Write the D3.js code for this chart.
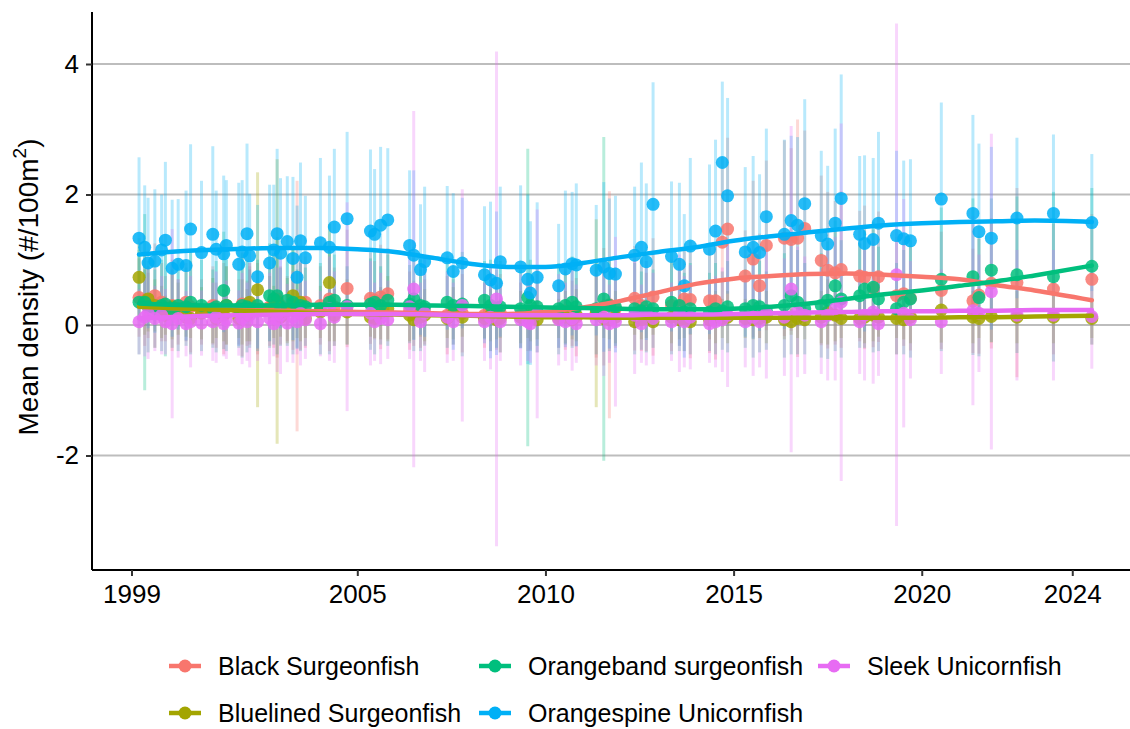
<!DOCTYPE html>
<html>
<head>
<meta charset="utf-8">
<script src="https://cdn.jsdelivr.net/npm/d3@7"></script>
<style>
  body { margin: 0; background: #fff; }
  svg text { font-family: "Liberation Sans", Arial, sans-serif; fill: #000; }
</style>
</head>
<body>
<div id="chart"></div>
<script>
var width = 1130, height = 729;

// survey dates (decimal years)
var dates = [
  1999.20, 1999.35, 1999.44, 1999.62, 1999.80, 1999.90, 2000.08, 2000.24, 2000.45, 2000.57,
  2000.86, 2001.16, 2001.25, 2001.45, 2001.52, 2001.85, 2001.94, 2002.07, 2002.14, 2002.35,
  2002.67, 2002.78, 2002.87, 2002.96, 2003.14, 2003.29, 2003.40, 2003.49, 2003.62, 2004.02,
  2004.26, 2004.39, 2004.73, 2005.35, 2005.46, 2005.62, 2005.81, 2006.39, 2006.50, 2006.68,
  2006.79, 2007.39, 2007.55, 2007.79, 2008.38, 2008.54, 2008.70, 2008.80, 2009.34, 2009.53,
  2009.60, 2009.78, 2010.35, 2010.53, 2010.71, 2010.82, 2011.35, 2011.55, 2011.70, 2011.86,
  2012.37, 2012.55, 2012.68, 2012.86, 2013.35, 2013.56, 2013.69, 2013.85, 2014.36, 2014.52,
  2014.70, 2014.84, 2015.31, 2015.52, 2015.69, 2015.87, 2016.35, 2016.53, 2016.70, 2016.89,
  2017.33, 2017.50, 2017.70, 2017.86, 2018.35, 2018.48, 2018.71, 2018.85, 2019.33, 2019.52,
  2019.70, 2020.52, 2021.36, 2021.52, 2021.85, 2022.53, 2023.50, 2024.52
];

// mean density and error half-width per species
var blackMean = [
  0.42, 0.38, 0.30, 0.45, 0.35, 0.25, 0.30, 0.20, 0.35, 0.28,
  0.20, 0.30, 0.15, 0.25, 0.30, 0.20, 0.32, 0.18, 0.30, 0.25,
  0.28, 0.35, 0.40, 0.30, 0.25, 0.32, 0.29, 0.22, 0.35, 0.30,
  0.40, 0.28, 0.56, 0.41, 0.38, 0.43, 0.48, 0.22, 0.18, 0.25,
  0.20, 0.15, 0.20, 0.18, 0.15, 0.20, 0.12, 0.18, 0.15, 0.20,
  0.12, 0.18, 0.15, 0.22, 0.18, 0.12, 0.20, 0.28, 0.31, 0.25,
  0.41, 0.30, 0.20, 0.43, 0.30, 0.28, 0.40, 0.39, 0.37, 0.37,
  1.27, 1.47, 0.75, 1.01, 0.60, 1.22, 1.33, 1.31, 1.33, 1.48,
  0.99, 0.84, 0.80, 0.85, 0.75, 0.73, 0.56, 0.74, 0.45, 0.48,
  0.41, 0.53, 0.37, 0.46, 0.64, 0.65, 0.55, 0.70
];
var blackErr = [
  0.6, 0.7, 0.5, 0.8, 0.6, 0.5, 0.7, 0.5, 0.6, 0.7,
  0.5, 0.6, 0.5, 0.7, 0.6, 0.5, 0.8, 0.5, 0.6, 0.7,
  0.6, 0.7, 0.9, 0.6, 0.5, 0.7, 1.92, 0.6, 0.7, 0.6,
  0.8, 0.6, 0.9, 0.7, 0.6, 0.8, 0.7, 0.6, 0.5, 0.6,
  0.5, 0.6, 0.5, 0.6, 0.5, 0.6, 0.5, 0.6, 0.5, 0.6,
  0.5, 0.6, 0.5, 0.6, 0.5, 0.6, 0.7, 0.9, 1.74, 0.6,
  0.8, 0.7, 0.6, 0.9, 0.7, 0.6, 0.8, 0.9, 0.8, 0.9,
  1.3, 1.4, 0.7, 1.2, 0.8, 1.3, 1.5, 1.4, 1.82, 1.5,
  1.3, 1.2, 1.1, 1.2, 1.0, 1.1, 0.9, 1.0, 0.9, 0.8,
  0.8, 0.9, 0.8, 0.9, 1.0, 1.45, 1.0, 1.0
];
var bluelinedMean = [
  0.73, 0.35, 0.40, 0.30, 0.20, 0.15, 0.28, 0.25, 0.12, 0.10,
  0.18, 0.22, 0.10, 0.15, 0.30, 0.10, 0.20, 0.15, 0.35, 0.54,
  0.25, 0.20, 0.36, 0.12, 0.22, 0.45, 0.30, 0.35, 0.10, 0.20,
  0.65, 0.15, 0.20, 0.12, 0.10, 0.18, 0.25, 0.15, 0.08, 0.12,
  0.15, 0.10, 0.18, 0.12, 0.10, 0.15, 0.08, 0.10, 0.12, 0.10,
  0.15, 0.08, 0.10, 0.12, 0.08, 0.15, 0.18, 0.10, 0.08, 0.12,
  0.05, 0.08, 0.10, 0.05, 0.12, 0.08, 0.10, 0.05, 0.08, 0.12,
  0.10, 0.12, 0.10, 0.08, 0.10, 0.12, 0.08, 0.05, 0.10, 0.08,
  0.12, 0.20, 0.15, 0.10, 0.10, 0.12, 0.15, 0.12, 0.10, 0.08,
  0.12, 0.23, 0.12, 0.10, 0.13, 0.12, 0.12, 0.10
];
var bluelinedErr = [
  0.6, 0.5, 0.5, 0.4, 0.4, 0.3, 0.5, 0.4, 0.3, 0.3,
  0.4, 0.5, 0.3, 0.4, 0.6, 0.3, 0.5, 0.4, 0.6, 1.8,
  0.5, 0.4, 2.18, 0.3, 0.5, 0.7, 0.5, 0.6, 0.3, 0.4,
  0.9, 0.4, 0.5, 0.3, 0.3, 0.4, 0.5, 0.4, 0.3, 0.3,
  0.4, 0.3, 0.4, 0.3, 0.3, 0.4, 0.3, 0.3, 0.4, 0.3,
  0.4, 0.3, 0.3, 0.4, 0.3, 0.4, 1.44, 0.3, 0.3, 0.4,
  0.2, 0.3, 0.3, 0.2, 0.4, 0.3, 0.3, 0.2, 0.3, 0.4,
  0.3, 0.4, 0.3, 0.3, 0.3, 0.4, 0.3, 0.2, 0.3, 0.3,
  0.4, 0.5, 0.4, 0.3, 0.3, 0.4, 0.4, 0.3, 0.3, 0.3,
  0.4, 0.5, 0.4, 0.3, 0.4, 0.4, 0.4, 0.3
];
var orangebandMean = [
  0.35, 0.35, 0.28, 0.25, 0.30, 0.32, 0.25, 0.30, 0.28, 0.35,
  0.30, 0.25, 0.28, 0.53, 0.30, 0.25, 0.30, 0.28, 0.25, 0.30,
  0.45, 0.40, 0.45, 0.28, 0.38, 0.35, 0.25, 0.30, 0.28, 0.25,
  0.35, 0.38, 0.30, 0.32, 0.35, 0.30, 0.38, 0.32, 0.40, 0.30,
  0.28, 0.35, 0.30, 0.32, 0.38, 0.30, 0.25, 0.28, 0.25, 0.42,
  0.30, 0.28, 0.25, 0.30, 0.35, 0.28, 0.25, 0.40, 0.30, 0.28,
  0.25, 0.22, 0.28, 0.25, 0.35, 0.30, 0.20, 0.25, 0.20, 0.25,
  0.22, 0.28, 0.25, 0.30, 0.28, 0.22, 0.30, 0.45, 0.35, 0.25,
  0.30, 0.38, 0.60, 0.40, 0.45, 0.55, 0.58, 0.40, 0.25, 0.35,
  0.40, 0.70, 0.74, 0.42, 0.84, 0.77, 0.74, 0.90
];
var orangebandErr = [
  0.8, 1.35, 0.7, 0.6, 0.7, 0.8, 0.6, 0.7, 0.6, 0.8,
  0.7, 0.6, 0.7, 0.9, 0.7, 0.6, 0.8, 0.7, 0.6, 0.7,
  0.8, 0.7, 0.9, 0.6, 0.7, 0.8, 0.6, 0.7, 0.6, 0.7,
  0.8, 0.7, 0.6, 0.7, 0.8, 0.6, 0.7, 0.6, 0.8, 0.7,
  0.6, 0.7, 0.6, 0.8, 0.6, 0.7, 0.6, 0.7, 0.6, 2.28,
  0.7, 0.6, 0.7, 0.6, 0.7, 0.6, 0.7, 2.48, 0.7, 0.6,
  0.7, 0.6, 0.7, 0.6, 0.8, 0.7, 0.6, 0.7, 0.6, 0.7,
  0.6, 0.7, 0.6, 0.8, 0.7, 0.6, 0.8, 0.9, 0.8, 0.7,
  0.8, 0.9, 1.0, 0.9, 0.8, 0.9, 1.0, 0.8, 0.7, 0.8,
  0.9, 1.1, 1.2, 0.9, 1.1, 1.2, 1.3, 1.2
];
var orangespineMean = [
  1.33, 1.19, 0.95, 0.98, 1.15, 1.30, 0.87, 0.93, 0.91, 1.47,
  1.11, 1.39, 1.16, 1.09, 1.22, 0.93, 1.12, 1.40, 1.06, 0.74,
  0.95, 1.15, 1.40, 1.10, 1.28, 1.02, 0.73, 1.29, 1.03, 1.26,
  1.19, 1.50, 1.63, 1.44, 1.39, 1.53, 1.61, 1.22, 1.07, 0.85,
  0.97, 1.03, 0.82, 0.95, 0.77, 0.69, 0.64, 0.97, 0.89, 0.70,
  0.49, 0.73, 0.60, 0.86, 0.94, 0.92, 0.84, 0.89, 0.79, 0.78,
  1.07, 1.19, 0.97, 1.85, 1.05, 0.93, 0.60, 1.21, 1.16, 1.44,
  2.49, 1.98, 1.12, 1.19, 1.11, 1.66, 1.39, 1.60, 1.53, 1.86,
  1.37, 1.24, 1.56, 1.94, 1.39, 1.25, 1.31, 1.56, 1.37, 1.32,
  1.29, 1.93, 1.71, 1.43, 1.33, 1.64, 1.71, 1.57
];
var orangespineErr = [
  1.24, 0.95, 1.0, 1.1, 0.85, 1.2, 1.05, 1.0, 1.15, 1.3,
  1.1, 1.35, 0.9, 1.2, 1.0, 1.25, 1.1, 1.38, 0.95, 1.1,
  1.2, 1.0, 1.3, 1.15, 1.0, 1.25, 1.1, 1.2, 0.95, 1.3,
  1.1, 1.2, 1.33, 1.25, 1.0, 1.2, 1.1, 1.15, 1.3, 1.0,
  1.15, 1.1, 1.2, 1.0, 1.05, 1.2, 1.1, 1.15, 1.25, 1.3,
  1.1, 1.15, 0.95, 1.2, 1.1, 1.25, 1.0, 1.3, 1.15, 1.2,
  1.05, 1.3, 1.2, 1.87, 1.15, 1.25, 1.1, 1.35, 1.3, 1.4,
  1.24, 1.5, 1.3, 1.4, 1.2, 1.35, 1.45, 1.3, 1.35, 1.6,
  1.3, 1.2, 1.45, 1.9, 1.2, 1.35, 1.25, 1.4, 1.3, 1.2,
  1.25, 1.48, 1.51, 1.35, 1.4, 1.23, 1.21, 1.05
];
var sleekMean = [
  0.05, 0.12, 0.18, 0.10, 0.15, 0.05, 0.02, 0.10, 0.02, 0.05,
  0.03, 0.05, 0.12, 0.02, 0.08, 0.03, 0.10, 0.05, 0.15, 0.05,
  0.10, 0.02, 0.08, 0.15, 0.03, 0.12, 0.05, 0.18, 0.08, 0.02,
  0.25, 0.12, 0.28, 0.18, 0.05, 0.10, 0.08, 0.28, 0.55, 0.05,
  0.18, 0.12, 0.05, 0.30, 0.05, 0.12, 0.40, 0.05, 0.08, 0.05,
  0.02, 0.17, 0.08, 0.05, 0.10, 0.02, 0.08, 0.12, 0.02, 0.05,
  0.15, 0.02, 0.18, 0.10, 0.05, 0.18, 0.05, 0.12, 0.02, 0.05,
  0.08, 0.15, 0.05, 0.12, 0.05, 0.18, 0.12, 0.55, 0.20, 0.15,
  0.05, 0.15, 0.25, 0.35, 0.05, 0.15, 0.20, 0.02, 0.77, 0.18,
  0.08, 0.05, 0.22, 0.18, 0.51, 0.15, 0.15, 0.13
];
var sleekErr = [
  0.5, 0.6, 0.7, 0.5, 0.6, 0.5, 1.45, 0.6, 0.5, 0.7,
  0.5, 0.6, 0.7, 0.5, 0.6, 0.5, 0.7, 0.6, 0.8, 0.6,
  0.7, 0.5, 0.8, 0.9, 0.6, 0.7, 0.5, 0.8, 0.6, 0.5,
  0.8, 0.7, 1.6, 0.8, 0.6, 0.7, 0.6, 0.8, 2.73, 0.6,
  0.9, 0.7, 0.6, 1.78, 0.6, 0.8, 3.79, 0.6, 0.7, 0.6,
  0.6, 1.6, 0.7, 0.6, 0.8, 0.6, 0.7, 0.9, 0.6, 1.3,
  0.9, 0.6, 0.8, 0.7, 0.6, 0.9, 0.7, 0.8, 0.6, 0.7,
  0.8, 1.1, 0.7, 0.9, 0.7, 1.0, 0.9, 2.5, 1.0, 0.9,
  0.8, 1.0, 1.1, 2.74, 0.8, 1.0, 1.1, 0.8, 3.85, 1.75,
  0.9, 0.8, 1.45, 0.9, 2.42, 1.0, 1.0, 0.8
];

// smoothed trend
var smoothYears = [1999.2, 2000, 2001, 2002, 2003, 2004, 2005, 2006, 2007, 2008, 2009, 2010, 2011,
  2012, 2013, 2014, 2015, 2016, 2017, 2018, 2019, 2020, 2021, 2022, 2023, 2024.52];
var blackSmooth = [0.28, 0.26, 0.25, 0.23, 0.22, 0.21, 0.20, 0.19, 0.18, 0.17, 0.17, 0.20, 0.27,
  0.37, 0.50, 0.63, 0.71, 0.75, 0.78, 0.79, 0.77, 0.74, 0.70, 0.61, 0.53, 0.38];
var bluelinedSmooth = [0.28, 0.26, 0.24, 0.22, 0.20, 0.18, 0.17, 0.16, 0.15, 0.14, 0.13, 0.12, 0.12,
  0.11, 0.11, 0.11, 0.11, 0.11, 0.11, 0.11, 0.11, 0.11, 0.12, 0.12, 0.13, 0.14];
var orangebandSmooth = [0.33, 0.31, 0.30, 0.30, 0.30, 0.31, 0.31, 0.31, 0.30, 0.29, 0.28, 0.27, 0.26,
  0.25, 0.24, 0.24, 0.25, 0.28, 0.33, 0.40, 0.47, 0.53, 0.60, 0.67, 0.76, 0.91];
var orangespineSmooth = [1.08, 1.12, 1.15, 1.17, 1.18, 1.18, 1.16, 1.12, 1.03, 0.94, 0.89, 0.89, 0.95,
  1.04, 1.12, 1.19, 1.29, 1.36, 1.42, 1.48, 1.53, 1.56, 1.58, 1.59, 1.60, 1.58];
var sleekSmooth = [0.10, 0.12, 0.14, 0.15, 0.16, 0.17, 0.17, 0.17, 0.16, 0.15, 0.15, 0.15, 0.15,
  0.15, 0.16, 0.16, 0.17, 0.18, 0.19, 0.20, 0.21, 0.21, 0.22, 0.22, 0.23, 0.23];

var species = ["Black Surgeonfish", "Bluelined Surgeonfish", "Orangeband surgeonfish",
  "Orangespine Unicornfish", "Sleek Unicornfish"];
var colors = ["#F8766D", "#A3A500", "#00BF7D", "#00B0F6", "#E76BF3"];
var xTicks = [1999, 2005, 2010, 2015, 2020, 2024];
var yTicks = [-2, 0, 2, 4];

var seriesMeans = [blackMean, bluelinedMean, orangebandMean, orangespineMean, sleekMean];
var seriesErrs = [blackErr, bluelinedErr, orangebandErr, orangespineErr, sleekErr];
var seriesSmooth = [blackSmooth, bluelinedSmooth, orangebandSmooth, orangespineSmooth, sleekSmooth];

var series = species.map(function(name, i) {
  return {
    name: name,
    color: colors[i],
    points: dates.map(function(d, j) {
      return { x: d, y: seriesMeans[i][j], e: seriesErrs[i][j] };
    }),
    smooth: smoothYears.map(function(d, j) { return { x: d, y: seriesSmooth[i][j] }; })
  };
});

var svg = d3.select("#chart").append("svg")
    .attr("width", width)
    .attr("height", height);

var panel = { left: 92, top: 12, right: 1140, bottom: 570 };

var x = d3.scaleLinear().domain([1997.95, 2025.8]).range([panel.left, panel.right]);
var y = d3.scaleLinear().domain([-3.755, 4.797]).range([panel.bottom, panel.top]);

// grid lines
svg.append("g")
  .selectAll("line")
  .data(yTicks)
  .enter().append("line")
  .attr("x1", panel.left).attr("x2", width)
  .attr("y1", function(d) { return y(d); })
  .attr("y2", function(d) { return y(d); })
  .attr("stroke", "#bdbdbd")
  .attr("stroke-width", 2);

// error bars
var errG = svg.append("g");
series.forEach(function(s) {
  errG.append("g").selectAll("line")
    .data(s.points)
    .enter().append("line")
    .attr("x1", function(d) { return x(d.x); })
    .attr("x2", function(d) { return x(d.x); })
    .attr("y1", function(d) { return y(d.y - d.e); })
    .attr("y2", function(d) { return y(d.y + d.e); })
    .attr("stroke", s.color)
    .attr("stroke-opacity", 0.28)
    .attr("stroke-width", 3);
});

// points
var ptG = svg.append("g");
series.forEach(function(s) {
  ptG.append("g").selectAll("circle")
    .data(s.points)
    .enter().append("circle")
    .attr("cx", function(d) { return x(d.x); })
    .attr("cy", function(d) { return y(d.y); })
    .attr("r", 6.5)
    .attr("fill", s.color)
    .attr("fill-opacity", 0.85);
});

// smoothed lines
var line = d3.line()
  .x(function(d) { return x(d.x); })
  .y(function(d) { return y(d.y); })
  .curve(d3.curveMonotoneX);

series.forEach(function(s) {
  svg.append("path")
    .datum(s.smooth)
    .attr("d", line)
    .attr("fill", "none")
    .attr("stroke", s.color)
    .attr("stroke-width", 4.5)
    .attr("stroke-linecap", "round");
});

// axes
var xAxis = svg.append("g")
  .attr("transform", "translate(0," + panel.bottom + ")")
  .call(d3.axisBottom(x).tickValues(xTicks).tickFormat(d3.format("d")).tickSize(6).tickPadding(9));
var yAxis = svg.append("g")
  .attr("transform", "translate(" + panel.left + ",0)")
  .call(d3.axisLeft(y).tickValues(yTicks).tickFormat(function(d) { return d; }).tickSize(6).tickPadding(7));

[xAxis, yAxis].forEach(function(a) {
  a.select(".domain").attr("stroke", "#000").attr("stroke-width", 2);
  a.selectAll(".tick line").attr("stroke", "#333").attr("stroke-width", 2);
  a.selectAll(".tick text").style("font-size", "26px").attr("fill", "#000");
});
xAxis.select(".domain").attr("d", "M" + panel.left + ",0H" + width);
yAxis.select(".domain").attr("d", "M0," + panel.top + "V" + panel.bottom);

// y axis title
var yTitle = svg.append("text")
  .attr("transform", "translate(38,287) rotate(-90)")
  .attr("text-anchor", "middle")
  .style("font-size", "28px");
yTitle.append("tspan").text("Mean density (#/100m");
yTitle.append("tspan").attr("dy", -12).style("font-size", "19px").text("2");
yTitle.append("tspan").attr("dy", 12).text(")");

// legend (second row nudged up so descenders stay inside the page)
var legendPos = [
  { kx: 185, ky: 666 }, { kx: 185, ky: 713 },
  { kx: 495, ky: 666 }, { kx: 495, ky: 713 },
  { kx: 834, ky: 666 }
];
var legend = svg.append("g");
series.forEach(function(s, i) {
  var p = legendPos[i];
  var g = legend.append("g").attr("transform", "translate(" + p.kx + "," + p.ky + ")");
  g.append("line").attr("x1", -16).attr("x2", 16)
    .attr("stroke", s.color).attr("stroke-width", 4.5);
  g.append("circle").attr("r", 6.5).attr("fill", s.color);
  g.append("text").attr("x", 33).attr("dy", "0.35em")
    .style("font-size", "25px").text(s.name);
});
</script>
</body>
</html>
